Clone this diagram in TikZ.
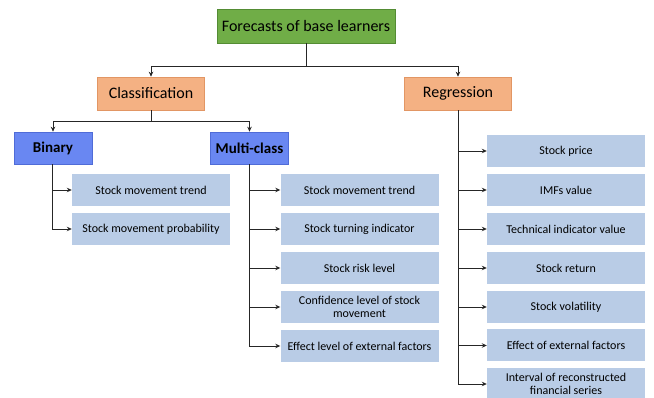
\documentclass[tikz,border=0pt]{standalone}
\usepackage{fontspec}
\setmainfont{Carlito}
\usetikzlibrary{arrows.meta}
\definecolor{cgreen}{RGB}{112,173,71}
\definecolor{cgreenb}{RGB}{84,140,52}
\definecolor{corange}{RGB}{244,177,131}
\definecolor{corangeb}{RGB}{226,150,100}
\definecolor{cblue}{RGB}{105,135,242}
\definecolor{cblueb}{RGB}{80,108,215}
\definecolor{clight}{RGB}{185,204,230}
\tikzset{
  x=1pt, y=-1pt,
  topbox/.style={draw=cgreenb, fill=cgreen, line width=0.8pt, minimum width=178pt, minimum height=34pt, inner sep=0pt, font=\fontsize{16}{18}\selectfont},
  midbox/.style={draw=corangeb, fill=corange, line width=0.6pt, minimum width=107pt, minimum height=33pt, inner sep=0pt, font=\fontsize{16}{18}\selectfont},
  catbox/.style={draw=cblueb, fill=cblue, line width=0.6pt, minimum width=78pt, minimum height=32pt, inner sep=0pt, font=\fontsize{15}{17}\selectfont\bfseries},
  leaf/.style={fill=clight, minimum width=158pt, minimum height=32pt, inner sep=0pt, align=center, font=\fontsize{12}{13.5}\selectfont},
  conn/.style={draw=black!85, line width=0.9pt},
  arr/.style={conn, -{Stealth[length=5pt,width=4.5pt]}}
}
\begin{document}
\begin{tikzpicture}
\useasboundingbox (0,0) rectangle (654,398);
\node[topbox] (top) at (306,26) {Forecasts of base learners};
\node[midbox] (cls) at (151,93.5) {Classification};
\node[midbox] (reg) at (458,93.5) {Regression};
\node[catbox] (bin) at (53,148) {Binary};
\node[catbox] (mul) at (249.5,148) {Multi-class};

\node[leaf] (b1) at (151,190) {Stock movement trend};
\node[leaf] (b2) at (151,229) {Stock movement probability};

\node[leaf] (m1) at (359.5,190) {Stock movement trend};
\node[leaf] (m2) at (359.5,229) {Stock turning indicator};
\node[leaf] (m3) at (359.5,268) {Stock risk level};
\node[leaf] (m4) at (359.5,307) {Confidence level of stock\\movement};
\node[leaf] (m5) at (359.5,346) {Effect level of external factors};

\node[leaf] (r1) at (566,151) {Stock price};
\node[leaf] (r2) at (566,190) {IMFs value};
\node[leaf] (r3) at (566,229) {Technical indicator value};
\node[leaf] (r4) at (566,268) {Stock return};
\node[leaf] (r5) at (566,307) {Stock volatility};
\node[leaf] (r6) at (566,345.5) {Effect of external factors};
\node[leaf] (r7) at (566,384) {Interval of reconstructed\\financial series};

\coordinate (tj) at (306,66);
\coordinate (cj) at (151,121);
\draw[conn] (top.south) -- (tj);
\draw[arr] (tj) -| (cls.north);
\draw[arr] (tj) -| (reg.north);
\draw[conn] (cls.south) -- (cj);
\draw[arr] (cj) -| (bin.north);
\draw[arr] (cj) -| (mul.north);

\foreach \c in {b1,b2} \draw[arr] ([xshift=-1pt]bin.south) |- (\c.west);
\foreach \c in {m1,m2,m3,m4,m5} \draw[arr] (mul.south) |- (\c.west);
\foreach \c in {r1,r2,r3,r4,r5,r6,r7} \draw[arr] (reg.south) |- (\c.west);
\end{tikzpicture}
\end{document}
